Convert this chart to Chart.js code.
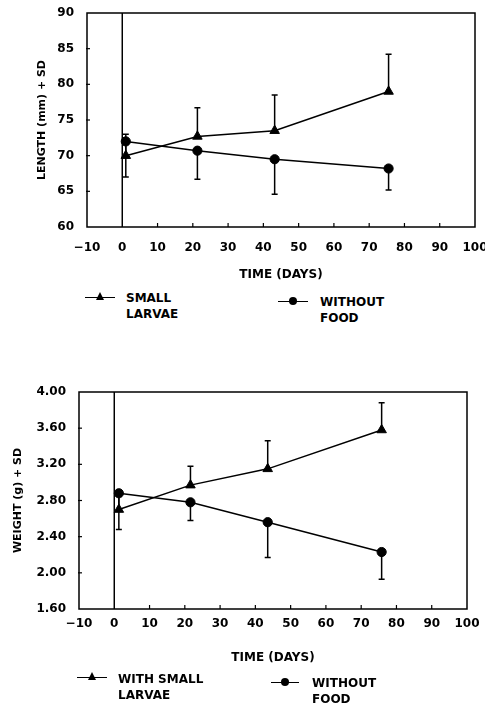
<!DOCTYPE html>
<html>
<head>
<meta charset="utf-8">
<script src="https://cdn.jsdelivr.net/npm/chart.js@4"></script>
<style>
  html, body { margin: 0; padding: 0; background: #fff; }
  body { width: 485px; height: 709px; position: relative; overflow: hidden; font-family: "DejaVu Sans", sans-serif; color: #000; }
  canvas { position: absolute; left: 0; }
  .leg { position: absolute; font-size: 12px; font-weight: bold; line-height: 16px; color: #000; }
  .mk { position: absolute; height: 0; border-top: 1.5px solid #000; }
  .tri { position: absolute; width: 0; height: 0; border-left: 4.5px solid transparent; border-right: 4.5px solid transparent; border-bottom: 8px solid #000; }
  .dot { position: absolute; width: 8px; height: 8px; border-radius: 50%; background: #000; }
</style>
</head>
<body>
<canvas id="c1" width="485" height="290" style="top:0px"></canvas>
<canvas id="c2" width="485" height="379" style="top:330px"></canvas>

<div class="mk" style="left:85px; top:297px; width:30px;"></div>
<div class="tri" style="left:95.5px; top:292px;"></div>
<div class="leg" style="left:126px; top:290px;">SMALL<br>LARVAE</div>
<div class="mk" style="left:278px; top:301px; width:30px;"></div>
<div class="dot" style="left:289px; top:297px;"></div>
<div class="leg" style="left:320px; top:294px;">WITHOUT<br>FOOD</div>

<div class="mk" style="left:77px; top:677px; width:30px;"></div>
<div class="tri" style="left:87.5px; top:672px;"></div>
<div class="leg" style="left:118px; top:671px;">WITH SMALL<br>LARVAE</div>
<div class="mk" style="left:271px; top:682px; width:28px;"></div>
<div class="dot" style="left:281px; top:678px;"></div>
<div class="leg" style="left:312px; top:675px;">WITHOUT<br>FOOD</div>

<script>
// ---------- data ----------
const daysLength = [1, 21.3, 43.2, 75.5];
const lengthLarvae = [70, 72.7, 73.5, 79];
const lengthLarvaeSD = [3, 4, 5, 5.2];        // drawn upward
const lengthNoFood = [72, 70.7, 69.5, 68.2];
const lengthNoFoodSD = [5, 4, 4.9, 3];        // drawn downward

const daysWeight = [1.3, 21.6, 43.5, 75.8];
const weightLarvae = [2.70, 2.97, 3.15, 3.58];
const weightLarvaeSD = [0.15, 0.21, 0.31, 0.30];
const weightNoFood = [2.88, 2.78, 2.56, 2.23];
const weightNoFoodSD = [0.40, 0.20, 0.39, 0.30];

const xTicks = [-10, 0, 10, 20, 30, 40, 50, 60, 70, 80, 90, 100];
const xTickLabels = ['\u221210', '0', '10', '20', '30', '40', '50', '60', '70', '80', '90', '100'];
const yTicksLength = [60, 65, 70, 75, 80, 85, 90];
const yTickLabelsLength = ['60', '65', '70', '75', '80', '85', '90'];
const yTicksWeight = [1.6, 2.0, 2.4, 2.8, 3.2, 3.6, 4.0];
const yTickLabelsWeight = ['1.60', '2.00', '2.40', '2.80', '3.20', '3.60', '4.00'];

// ---------- plugin: frame, inward ticks, zero line, error bars ----------
const extras = {
  id: 'extras',
  beforeDatasetsDraw(chart, args, opts) {
    const ctx = chart.ctx;
    const a = chart.chartArea;
    const xs = chart.scales.x, ys = chart.scales.y;
    ctx.save();
    ctx.strokeStyle = '#000';
    ctx.lineWidth = 1.5;
    ctx.strokeRect(a.left, a.top, a.right - a.left, a.bottom - a.top);
    // zero line
    const x0 = xs.getPixelForValue(0);
    ctx.beginPath(); ctx.moveTo(x0, a.top); ctx.lineTo(x0, a.bottom); ctx.stroke();
    // inward ticks
    ctx.lineWidth = 1.2;
    xs.ticks.forEach((t, i) => {
      if (t.value <= xs.min || t.value >= xs.max || t.value === 0) return;
      const px = xs.getPixelForTick(i);
      ctx.beginPath(); ctx.moveTo(px, a.bottom); ctx.lineTo(px, a.bottom - 4); ctx.stroke();
    });
    ys.ticks.forEach((t, i) => {
      if (t.value <= ys.min + 1e-9 || t.value >= ys.max - 1e-9) return;
      const py = ys.getPixelForTick(i);
      ctx.beginPath(); ctx.moveTo(a.left - 1, py); ctx.lineTo(a.left + 3, py); ctx.stroke();
    });
    // error bars
    ctx.lineWidth = 1.5;
    (opts.bars || []).forEach(b => {
      b.days.forEach((d, i) => {
        const px = xs.getPixelForValue(d);
        const y0 = ys.getPixelForValue(b.vals[i]);
        const y1 = ys.getPixelForValue(b.vals[i] + b.dir * b.sd[i]);
        ctx.beginPath();
        ctx.moveTo(px, y0); ctx.lineTo(px, y1);
        ctx.moveTo(px - 3, y1); ctx.lineTo(px + 3, y1);
        ctx.stroke();
      });
    });
    ctx.restore();
  }
};

function pts(days, vals) { return days.map((d, i) => ({ x: d, y: vals[i] })); }

const tickFont = { family: '"DejaVu Sans"', size: 12, weight: 'bold' };
const yTitleFont = { family: '"DejaVu Sans"', size: 11, weight: 'bold' };
const xTitleFont = { family: '"DejaVu Sans"', size: 12, weight: 'bold' };

function makeChart(id, cfg) {
  return new Chart(document.getElementById(id), {
    type: 'scatter',
    data: {
      datasets: [
        { data: pts(cfg.days, cfg.tri), showLine: true, borderColor: '#000', backgroundColor: '#000',
          borderWidth: 1.5, pointStyle: 'triangle', pointRadius: 5.5, pointBorderWidth: 1 },
        { data: pts(cfg.days, cfg.dot), showLine: true, borderColor: '#000', backgroundColor: '#000',
          borderWidth: 1.5, pointStyle: 'circle', pointRadius: 4.6, pointBorderWidth: 1 }
      ]
    },
    options: {
      responsive: false,
      animation: false,
      devicePixelRatio: 1,
      layout: { padding: cfg.padding },
      plugins: {
        legend: { display: false },
        tooltip: { enabled: false },
        extras: { bars: cfg.bars }
      },
      scales: {
        x: {
          type: 'linear', min: -10, max: 100,
          grid: { display: false },
          border: { display: false },
          afterBuildTicks: s => { s.ticks = xTicks.map(v => ({ value: v })); },
          afterFit: s => { s.height = cfg.xHeight; s.paddingLeft = 0; s.paddingRight = 0; },
          ticks: {
            color: '#000', padding: cfg.xTickPad, maxRotation: 0, autoSkip: false,
            font: tickFont,
            callback: (v, i) => xTickLabels[i]
          },
          title: {
            display: true, text: 'TIME (DAYS)', color: '#000',
            font: xTitleFont,
            padding: { top: 0, bottom: cfg.xTitlePad }
          }
        },
        y: {
          type: 'linear', min: cfg.yMin, max: cfg.yMax,
          grid: { display: false },
          border: { display: false },
          afterBuildTicks: s => { s.ticks = cfg.yTicks.map(v => ({ value: v })); },
          afterFit: s => { s.width = cfg.yWidth; s.paddingTop = 0; s.paddingBottom = 0; },
          ticks: {
            color: '#000', padding: 5, autoSkip: false,
            font: tickFont,
            callback: (v, i) => cfg.yLabels[i]
          },
          title: {
            display: true, text: cfg.yTitle, color: '#000',
            font: yTitleFont,
            padding: { top: cfg.yTitlePad, bottom: 0 }
          }
        }
      }
    },
    plugins: [extras]
  });
}

makeChart('c1', {
  days: daysLength, tri: lengthLarvae, dot: lengthNoFood,
  bars: [
    { days: daysLength, vals: lengthLarvae, sd: lengthLarvaeSD, dir: 1 },
    { days: daysLength, vals: lengthNoFood, sd: lengthNoFoodSD, dir: -1 }
  ],
  padding: { left: 0, top: 13, right: 10, bottom: 0 },
  xHeight: 63, xTickPad: 6, xTitlePad: 8,
  yWidth: 87, yTitlePad: 35.4,
  yMin: 60, yMax: 90, yTicks: yTicksLength, yLabels: yTickLabelsLength,
  yTitle: 'LENGTH (mm) + SD'
});

makeChart('c2', {
  days: daysWeight, tri: weightLarvae, dot: weightNoFood,
  bars: [
    { days: daysWeight, vals: weightLarvae, sd: weightLarvaeSD, dir: 1 },
    { days: daysWeight, vals: weightNoFood, sd: weightNoFoodSD, dir: -1 }
  ],
  padding: { left: 0, top: 62, right: 18, bottom: 0 },
  xHeight: 100, xTickPad: 0, xTitlePad: 44,
  yWidth: 79, yTitlePad: 11.4,
  yMin: 1.6, yMax: 4.0, yTicks: yTicksWeight, yLabels: yTickLabelsWeight,
  yTitle: 'WEIGHT (g) + SD'
});
</script>
</body>
</html>
